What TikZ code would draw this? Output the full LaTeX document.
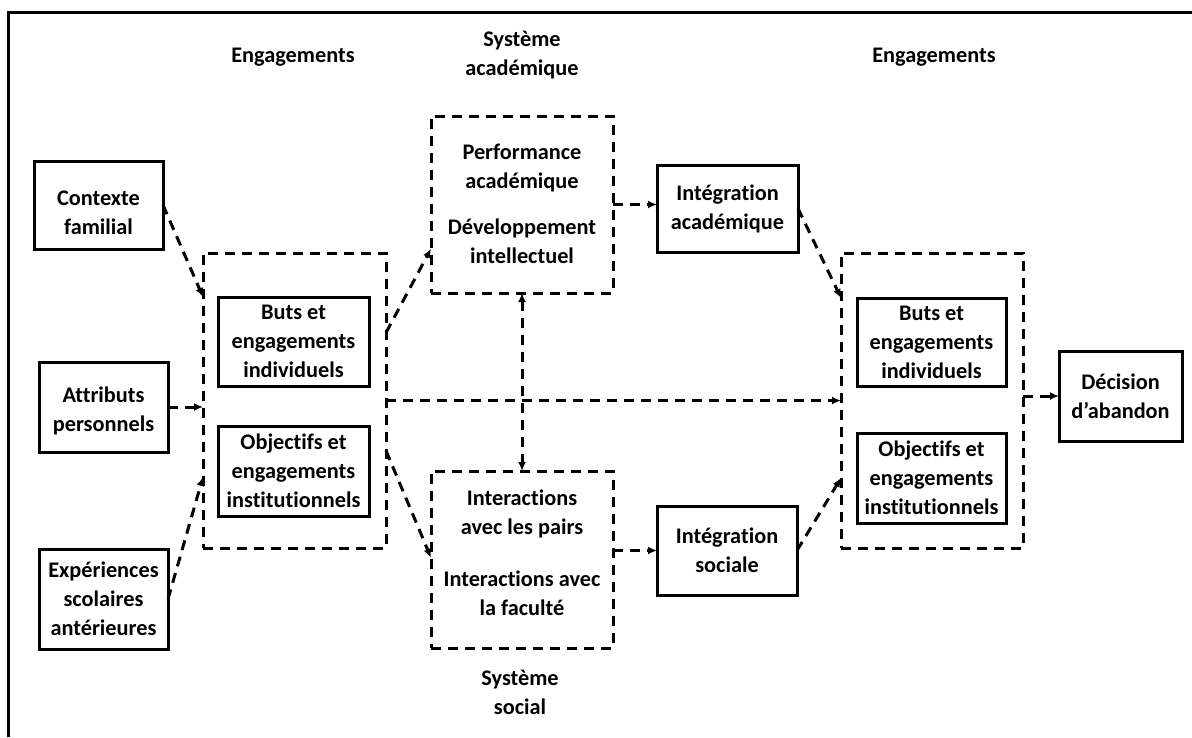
\documentclass[tikz,border=0pt]{standalone}
\usepackage{fontspec}
\setmainfont{Carlito}[Ligatures=NoCommon]
\usetikzlibrary{arrows.meta,calc}
\begin{document}
\begin{tikzpicture}[x=1pt,y=-1pt,
  every node/.style={font=\bfseries\fontsize{22.3}{29}\selectfont, align=center, inner sep=0pt, outer sep=0pt},
  sbox/.style={draw, line width=3pt},
  dbox/.style={draw, line width=3pt, dash pattern=on 10pt off 7pt},
  conn/.style={line width=3pt, dash pattern=on 10pt off 7pt, -{Latex[length=9pt,width=8pt]}},
  biconn/.style={line width=3pt, dash pattern=on 10pt off 7pt, {Latex[length=9pt,width=8pt]}-{Latex[length=9pt,width=8pt]}}
]
\useasboundingbox (0,0) rectangle (1192,737);
\draw[line width=3pt] (8,737) -- (8,12) -- (1192,12);

% labels
\node (eng1) at (293,57) {Engagements};
\node (eng2) at (934,57) {Engagements};
\node (sysa) at (522,55) {Système\\académique};
\node (syss) at (520,692) {Système\\social};

% left inputs
\node[sbox, minimum width=129pt, minimum height=88pt] (ctx) at (98.5,205) {};
\node (ctxt) at (98.5,213) {Contexte\\familial};
\node[sbox, minimum width=129pt, minimum height=90pt] (attr) at (103.5,407) {};
\node (attrt) at (103.5,411) {Attributs\\personnels};
\node[sbox, minimum width=129pt, minimum height=100pt] (exp) at (103.5,599) {Expériences\\scolaires\\antérieures};

% left group
\node[dbox, minimum width=183pt, minimum height=295pt] (lgrp) at (294.5,400.5) {};
\node[sbox, minimum width=151pt, minimum height=89pt] (lbuts) at (293.5,341.5) {Buts et\\engagements\\individuels};
\node[sbox, minimum width=151pt, minimum height=90pt] (lobj) at (293.5,471) {Objectifs et\\engagements\\institutionnels};

% systems
\node[dbox, minimum width=182pt, minimum height=177pt] (acad) at (522,204.5) {};
\node (perf) at (522,168) {Performance\\académique};
\node (dev) at (522,241.5) {Développement\\intellectuel};
\node[dbox, minimum width=182pt, minimum height=177pt] (soc) at (522,559.5) {};
\node (pairs) at (522,514) {Interactions\\avec les pairs};
\node (fac) at (522,593) {Interactions avec\\la faculté};

% integration
\node[sbox, minimum width=141pt, minimum height=87pt] (iacad) at (727.5,208.5) {Intégration\\académique};
\node[sbox, minimum width=140pt, minimum height=89pt] (isoc) at (727,550.5) {Intégration\\sociale};

% right group
\node[dbox, minimum width=182pt, minimum height=295pt] (rgrp) at (932,400.5) {};
\node[sbox, minimum width=149pt, minimum height=88pt] (rbuts) at (931.5,342) {Buts et\\engagements\\individuels};
\node[sbox, minimum width=149pt, minimum height=90pt] (robj) at (931.5,478) {Objectifs et\\engagements\\institutionnels};

\node[sbox, minimum width=123pt, minimum height=90pt] (dec) at (1120.5,396) {Décision\\d’abandon};

% connectors
\draw[conn] (ctx.east) -- (lgrp.west |- lbuts.north);
\draw[conn] (attr.east) -- (attr.east -| lgrp.west);
\draw[conn] (exp.east) -- ([yshift=-6pt]lgrp.west |- lobj.center);
\draw[conn] ($(lgrp.north east)!0.27!(lgrp.south east)$) -- ($(acad.north west)!0.75!(acad.south west)$);
\draw[conn] ($(lgrp.north east)!0.67!(lgrp.south east)$) -- ($(soc.north west)!0.49!(soc.south west)$);
\draw[conn] (lgrp.east) -- (rgrp.west);
\draw[biconn] (acad.south) -- (soc.north);
\draw[conn] (acad.east) -- (acad.east -| iacad.west);
\draw[conn] (isoc.west -| soc.east) -- (isoc.west);
\draw[conn] (iacad.east) -- (rgrp.west |- rbuts.north);
\draw[conn] (isoc.east) -- (rgrp.west |- robj.center);
\draw[conn] (dec.west -| rgrp.east) -- (dec.west);
\end{tikzpicture}
\end{document}
